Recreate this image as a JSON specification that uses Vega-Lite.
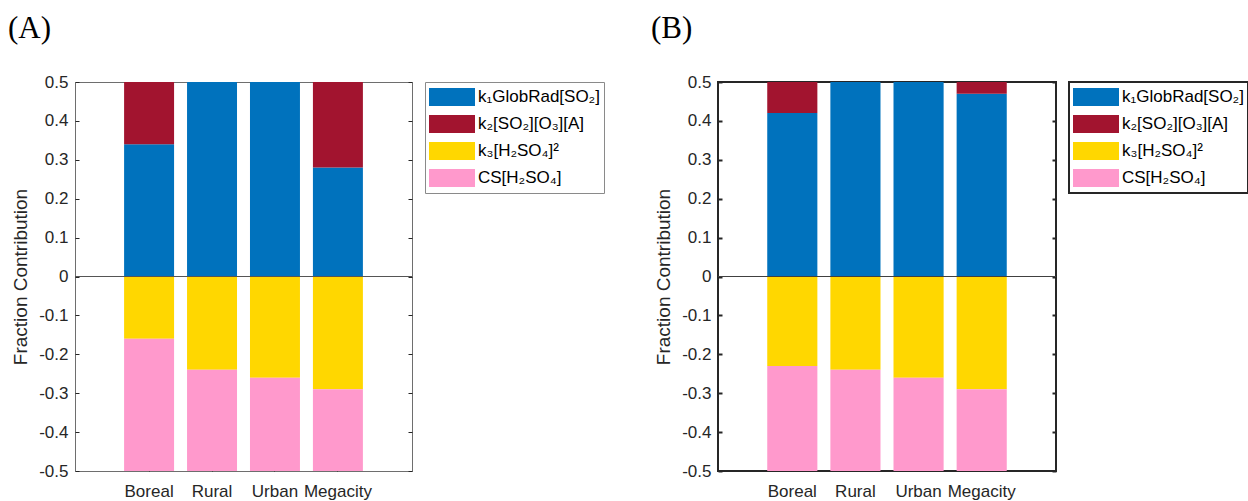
{
  "$schema": "https://vega.github.io/schema/vega-lite/v6.json",
  "background": "white",
  "padding": {"left": 7, "top": 12, "right": 0, "bottom": 0},
  "config": {
    "font": "Liberation Sans",
    "axis": {
      "labelFont": "Liberation Sans",
      "labelFontSize": 17,
      "labelColor": "#262626",
      "titleFont": "Liberation Sans",
      "titleFontSize": 19,
      "titleFontWeight": "normal",
      "titleColor": "#262626",
      "domain": false,
      "grid": false,
      "tickColor": "#262626",
      "tickSize": -4
    },
    "legend": {
      "labelFont": "Liberation Sans",
      "labelFontSize": 17,
      "labelColor": "#000000"
    }
  },
  "datasets": {
    "A": [
      {"site": "Boreal", "term": "k₁GlobRad[SO₂]", "ord": 1, "value": 0.34},
      {"site": "Boreal", "term": "k₂[SO₂][O₃][A]", "ord": 2, "value": 0.16},
      {"site": "Boreal", "term": "k₃[H₂SO₄]²", "ord": 3, "value": -0.16},
      {"site": "Boreal", "term": "CS[H₂SO₄]", "ord": 4, "value": -0.34},
      {"site": "Rural", "term": "k₁GlobRad[SO₂]", "ord": 1, "value": 0.5},
      {"site": "Rural", "term": "k₂[SO₂][O₃][A]", "ord": 2, "value": 0.0},
      {"site": "Rural", "term": "k₃[H₂SO₄]²", "ord": 3, "value": -0.24},
      {"site": "Rural", "term": "CS[H₂SO₄]", "ord": 4, "value": -0.26},
      {"site": "Urban", "term": "k₁GlobRad[SO₂]", "ord": 1, "value": 0.5},
      {"site": "Urban", "term": "k₂[SO₂][O₃][A]", "ord": 2, "value": 0.0},
      {"site": "Urban", "term": "k₃[H₂SO₄]²", "ord": 3, "value": -0.26},
      {"site": "Urban", "term": "CS[H₂SO₄]", "ord": 4, "value": -0.24},
      {"site": "Megacity", "term": "k₁GlobRad[SO₂]", "ord": 1, "value": 0.28},
      {"site": "Megacity", "term": "k₂[SO₂][O₃][A]", "ord": 2, "value": 0.22},
      {"site": "Megacity", "term": "k₃[H₂SO₄]²", "ord": 3, "value": -0.29},
      {"site": "Megacity", "term": "CS[H₂SO₄]", "ord": 4, "value": -0.21}
    ],
    "B": [
      {"site": "Boreal", "term": "k₁GlobRad[SO₂]", "ord": 1, "value": 0.42},
      {"site": "Boreal", "term": "k₂[SO₂][O₃][A]", "ord": 2, "value": 0.08},
      {"site": "Boreal", "term": "k₃[H₂SO₄]²", "ord": 3, "value": -0.23},
      {"site": "Boreal", "term": "CS[H₂SO₄]", "ord": 4, "value": -0.27},
      {"site": "Rural", "term": "k₁GlobRad[SO₂]", "ord": 1, "value": 0.5},
      {"site": "Rural", "term": "k₂[SO₂][O₃][A]", "ord": 2, "value": 0.0},
      {"site": "Rural", "term": "k₃[H₂SO₄]²", "ord": 3, "value": -0.24},
      {"site": "Rural", "term": "CS[H₂SO₄]", "ord": 4, "value": -0.26},
      {"site": "Urban", "term": "k₁GlobRad[SO₂]", "ord": 1, "value": 0.5},
      {"site": "Urban", "term": "k₂[SO₂][O₃][A]", "ord": 2, "value": 0.0},
      {"site": "Urban", "term": "k₃[H₂SO₄]²", "ord": 3, "value": -0.26},
      {"site": "Urban", "term": "CS[H₂SO₄]", "ord": 4, "value": -0.24},
      {"site": "Megacity", "term": "k₁GlobRad[SO₂]", "ord": 1, "value": 0.47},
      {"site": "Megacity", "term": "k₂[SO₂][O₃][A]", "ord": 2, "value": 0.03},
      {"site": "Megacity", "term": "k₃[H₂SO₄]²", "ord": 3, "value": -0.29},
      {"site": "Megacity", "term": "CS[H₂SO₄]", "ord": 4, "value": -0.21}
    ]
  },
  "spacing": 45,
  "resolve": {"legend": {"color": "independent"}},
  "hconcat": [
    {
      "title": {"text": "(A)", "anchor": "start", "frame": "group", "dx": -67, "offset": 28, "font": "Liberation Serif", "fontSize": 31, "fontWeight": "normal", "color": "#000000"},
      "width": 337,
      "height": 389,
      "data": {"name": "A"},
      "view": {"stroke": "#6e6e6e", "strokeWidth": 1},
      "layer": [
        {
          "mark": {"type": "bar"},
          "encoding": {
            "x": {"field": "site", "type": "nominal", "sort": ["Boreal", "Rural", "Urban", "Megacity"],
                  "scale": {"paddingInner": 0.206, "paddingOuter": 0.78},
                  "axis": {"orient": "bottom", "title": null, "labelAngle": 0, "labelOverlap": false, "labelPadding": 16}},
            "y": {"field": "value", "type": "quantitative", "stack": "zero",
                  "scale": {"domain": [-0.5, 0.5], "nice": false, "zero": false},
                  "axis": {"orient": "left", "title": "Fraction Contribution", "values": [-0.5, -0.4, -0.3, -0.2, -0.1, 0, 0.1, 0.2, 0.3, 0.4, 0.5], "labelExpr": "'' + datum.value", "labelPadding": 11, "titlePadding": 8}},
            "color": {"field": "term", "type": "nominal",
                      "scale": {"domain": ["k₁GlobRad[SO₂]", "k₂[SO₂][O₃][A]", "k₃[H₂SO₄]²", "CS[H₂SO₄]"], "range": ["#0072BD", "#A2142F", "#FFD700", "#FF99CC"]},
                      "legend": {"orient": "none", "legendX": 350, "legendY": 0, "title": null,
                                 "symbolType": "M-1,-0.39L1,-0.39L1,0.39L-1,0.39Z", "symbolSize": 2116, "symbolStrokeWidth": 0, "symbolOpacity": 1,
                                 "strokeColor": "#8a8a8a", "fillColor": "white", "padding": 4, "rowPadding": 5, "clipHeight": 22, "labelOffset": 3}},
            "order": {"field": "ord"}
          }
        },
        {
          "mark": {"type": "rule", "color": "#555555", "strokeWidth": 1},
          "encoding": {
            "y": {"datum": 0, "type": "quantitative",
                  "axis": {"orient": "right", "title": null, "labels": false, "values": [-0.5, -0.4, -0.3, -0.2, -0.1, 0, 0.1, 0.2, 0.3, 0.4, 0.5]}}
          }
        },
        {
          "mark": {"type": "rule", "opacity": 0},
          "encoding": {
            "x": {"field": "site", "type": "nominal", "sort": ["Boreal", "Rural", "Urban", "Megacity"],
                  "axis": {"orient": "top", "title": null, "labels": false}}
          }
        }
      ]
    },
    {
      "title": {"text": "(B)", "anchor": "start", "frame": "group", "dx": -67, "offset": 28, "font": "Liberation Serif", "fontSize": 31, "fontWeight": "normal", "color": "#000000"},
      "width": 338,
      "height": 389,
      "data": {"name": "B"},
      "view": {"stroke": "#262626", "strokeWidth": 2},
      "layer": [
        {
          "mark": {"type": "bar"},
          "encoding": {
            "x": {"field": "site", "type": "nominal", "sort": ["Boreal", "Rural", "Urban", "Megacity"],
                  "scale": {"paddingInner": 0.206, "paddingOuter": 0.78},
                  "axis": {"orient": "bottom", "title": null, "labelAngle": 0, "labelOverlap": false, "labelPadding": 16, "tickWidth": 2}},
            "y": {"field": "value", "type": "quantitative", "stack": "zero",
                  "scale": {"domain": [-0.5, 0.5], "nice": false, "zero": false},
                  "axis": {"orient": "left", "title": "Fraction Contribution", "values": [-0.5, -0.4, -0.3, -0.2, -0.1, 0, 0.1, 0.2, 0.3, 0.4, 0.5], "labelExpr": "'' + datum.value", "labelPadding": 11, "titlePadding": 8, "tickWidth": 2}},
            "color": {"field": "term", "type": "nominal",
                      "scale": {"domain": ["k₁GlobRad[SO₂]", "k₂[SO₂][O₃][A]", "k₃[H₂SO₄]²", "CS[H₂SO₄]"], "range": ["#0072BD", "#A2142F", "#FFD700", "#FF99CC"]},
                      "legend": {"orient": "none", "legendX": 351, "legendY": 0, "title": null,
                                 "symbolType": "M-1,-0.39L1,-0.39L1,0.39L-1,0.39Z", "symbolSize": 2116, "symbolStrokeWidth": 0, "symbolOpacity": 1,
                                 "strokeColor": "#262626", "fillColor": "white", "padding": 4, "rowPadding": 5, "clipHeight": 22, "labelOffset": 3,
                                 "encode": {"legend": {"update": {"strokeWidth": {"value": 2}}}}}},
            "order": {"field": "ord"}
          }
        },
        {
          "mark": {"type": "rule", "color": "#404040", "strokeWidth": 1},
          "encoding": {
            "y": {"datum": 0, "type": "quantitative",
                  "axis": {"orient": "right", "title": null, "labels": false, "tickWidth": 2, "values": [-0.5, -0.4, -0.3, -0.2, -0.1, 0, 0.1, 0.2, 0.3, 0.4, 0.5]}}
          }
        },
        {
          "mark": {"type": "rule", "opacity": 0},
          "encoding": {
            "x": {"field": "site", "type": "nominal", "sort": ["Boreal", "Rural", "Urban", "Megacity"],
                  "axis": {"orient": "top", "title": null, "labels": false, "tickWidth": 2}}
          }
        }
      ]
    }
  ]
}
